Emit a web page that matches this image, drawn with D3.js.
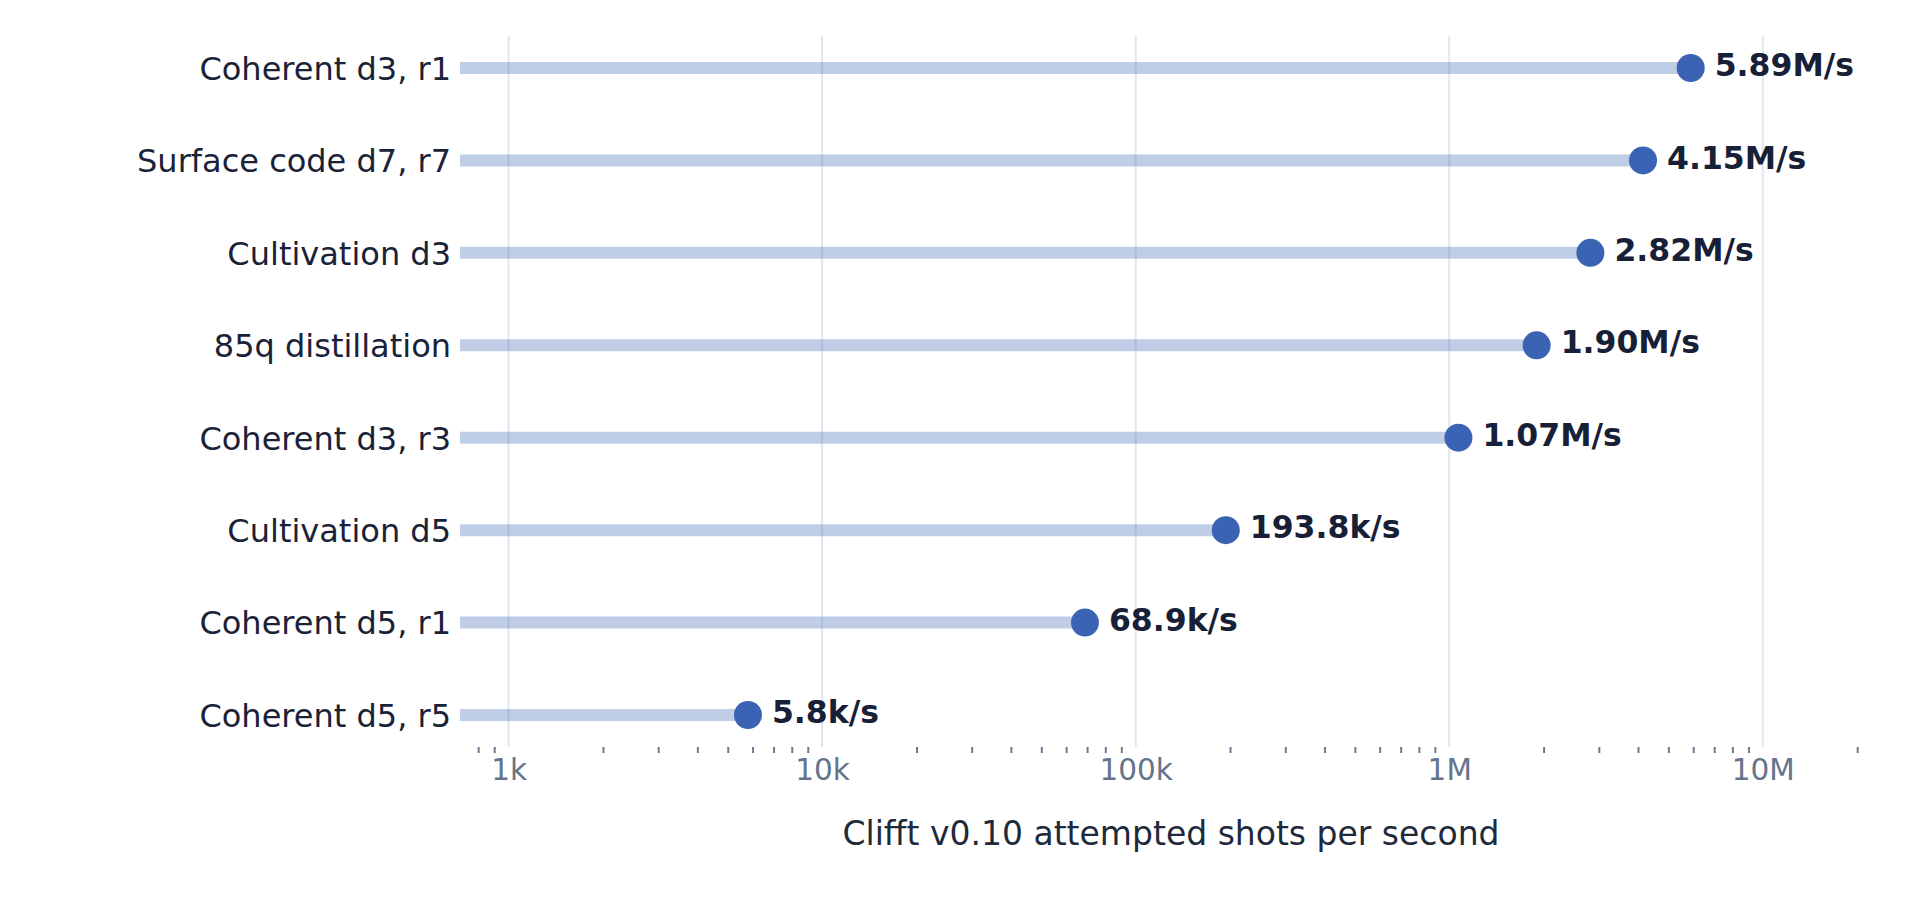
<!DOCTYPE html>
<html lang="en">
<head>
    <meta charset="UTF-8">
    <title>Clifft v0.10 throughput</title>
    <script src="https://d3js.org/d3.v7.min.js"></script>
    <style>
        body {
            margin: 0;
            background: #ffffff;
            font-family: "DejaVu Sans", sans-serif;
        }
        svg {
            display: block;
        }
    </style>
</head>
<body>
    <div id="container"></div>

    <script>
        // chart data, top to bottom
        const categories = [
            'Coherent d3, r1',
            'Surface code d7, r7',
            'Cultivation d3',
            '85q distillation',
            'Coherent d3, r3',
            'Cultivation d5',
            'Coherent d5, r1',
            'Coherent d5, r5'
        ];
        const shotsPerSecond = [5.89e6, 4.15e6, 2.82e6, 1.90e6, 1.07e6, 193.8e3, 68.9e3, 5.8e3];
        const decadeTicks = [1e3, 1e4, 1e5, 1e6, 1e7];
        const decadeLabels = ['1k', '10k', '100k', '1M', '10M'];
        const axisTitle = 'Clifft v0.10 attempted shots per second';

        const width = 1920;
        const height = 900;
        const plotLeft = 460;
        const plotRight = 1882;
        const plotTop = 36;
        const plotBottom = 747;

        const data = categories.map((c, i) => ({ name: c, value: shotsPerSecond[i] }));

        const svg = d3.select('#container')
            .append('svg')
            .attr('width', width)
            .attr('height', height);

        const x = d3.scaleLog()
            .domain([700, 2.4e7])
            .range([plotLeft, plotRight]);

        const y = d3.scalePoint()
            .domain(categories)
            .range([plotTop + 32, plotBottom - 32]);

        // vertical grid at decades
        svg.append('g')
            .selectAll('line')
            .data(decadeTicks)
            .enter()
            .append('line')
            .attr('x1', d => x(d))
            .attr('x2', d => x(d))
            .attr('y1', plotTop)
            .attr('y2', plotBottom)
            .attr('stroke', '#e0e6f1')
            .attr('stroke-width', 2);

        // bottom axis: minor ticks everywhere, labels on decades only
        const allTicks = x.ticks(20).filter(t => t > 700);
        const isDecade = t => decadeTicks.indexOf(t) >= 0;

        const axis = d3.axisBottom(x)
            .tickValues(allTicks)
            .tickSize(6)
            .tickPadding(6)
            .tickFormat(t => isDecade(t) ? decadeLabels[decadeTicks.indexOf(t)] : '');

        const gx = svg.append('g')
            .attr('transform', `translate(0,${plotBottom})`)
            .call(axis);

        gx.select('.domain').remove();
        gx.selectAll('.tick line')
            .attr('stroke', '#6b7a90')
            .attr('stroke-width', 2)
            .attr('display', d => isDecade(d) ? 'none' : null);
        gx.selectAll('.tick text')
            .attr('fill', '#64748b')
            .style('font-family', '"DejaVu Sans", sans-serif')
            .style('font-size', '29.5px');

        // axis title
        svg.append('text')
            .attr('x', (plotLeft + plotRight) / 2)
            .attr('y', 845)
            .attr('text-anchor', 'middle')
            .attr('fill', '#1e293b')
            .style('font-size', '33px')
            .text(axisTitle);

        // lollipop sticks
        svg.append('g')
            .selectAll('line')
            .data(data)
            .enter()
            .append('line')
            .attr('x1', plotLeft)
            .attr('x2', d => x(d.value))
            .attr('y1', d => y(d.name))
            .attr('y2', d => y(d.name))
            .attr('stroke', '#3b63b3')
            .attr('stroke-opacity', 0.32)
            .attr('stroke-width', 12);

        // dots
        svg.append('g')
            .selectAll('circle')
            .data(data)
            .enter()
            .append('circle')
            .attr('cx', d => x(d.value))
            .attr('cy', d => y(d.name))
            .attr('r', 14)
            .attr('fill', '#3b63b3');

        // category labels
        svg.append('g')
            .selectAll('text')
            .data(data)
            .enter()
            .append('text')
            .attr('x', plotLeft - 9)
            .attr('y', d => y(d.name))
            .attr('dy', '0.37em')
            .attr('text-anchor', 'end')
            .attr('fill', '#1a2238')
            .style('font-size', '32px')
            .text(d => d.name);

        // value labels
        function fmt(v) {
            if (v >= 1e6) return (v / 1e6).toFixed(2) + 'M/s';
            return (v / 1e3).toFixed(1) + 'k/s';
        }

        svg.append('g')
            .selectAll('text')
            .data(data)
            .enter()
            .append('text')
            .attr('x', d => x(d.value) + 24)
            .attr('y', d => y(d.name))
            .attr('dy', '0.26em')
            .attr('text-anchor', 'start')
            .attr('fill', '#172036')
            .style('font-size', '31.5px')
            .style('font-weight', 'bold')
            .text(d => fmt(d.value));
    </script>
</body>
</html>
